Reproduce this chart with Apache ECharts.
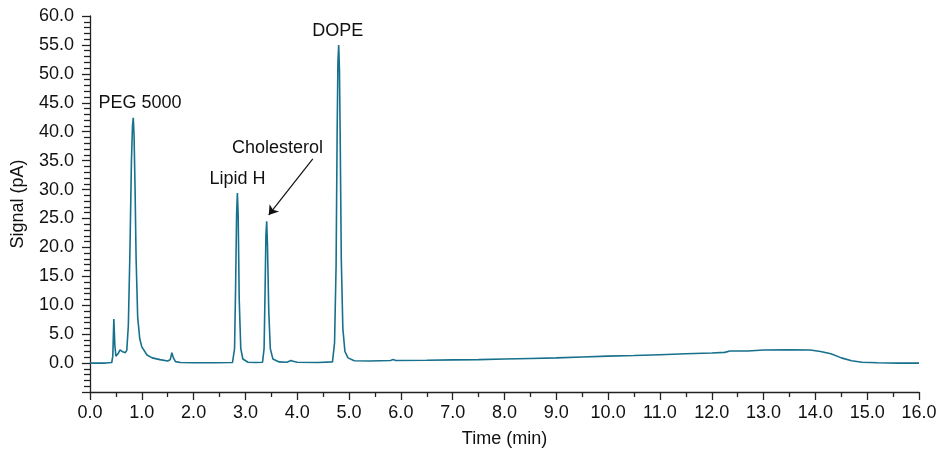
<!DOCTYPE html>
<html>
<head>
<meta charset="utf-8">
<script src="https://cdn.jsdelivr.net/npm/echarts@6/dist/echarts.min.js"></script>
<style>
  html, body { margin: 0; padding: 0; background: #fff; }
  #chart { width: 943px; height: 456px; }
</style>
</head>
<body>
<div id="chart"></div>
<script>
// retention time (min) and detector signal (pA)
const times = [
  0.0, 0.3, 0.42, 0.44, 0.46, 0.48, 0.50, 0.54, 0.58, 0.62, 0.68, 0.71,
  0.74, 0.77, 0.80, 0.82, 0.835, 0.85, 0.87, 0.89, 0.92, 0.96, 1.0, 1.1,
  1.2, 1.35, 1.5, 1.55, 1.58, 1.61, 1.65, 1.75, 2.0, 2.4, 2.75,
  2.79, 2.81, 2.83, 2.845, 2.86, 2.88, 2.91, 2.95, 3.05, 3.2, 3.33,
  3.36, 3.38, 3.395, 3.41, 3.425, 3.45, 3.48, 3.53, 3.65, 3.8, 3.88, 3.92, 4.0, 4.4, 4.68,
  4.72, 4.75, 4.77, 4.785, 4.80, 4.815, 4.83, 4.85, 4.88, 4.92, 4.98, 5.1,
  5.4, 5.8, 5.85, 5.9, 6.5, 7.0, 7.5, 8.0, 8.5, 9.0, 9.5, 10.0, 10.5,
  11.0, 11.5, 12.0, 12.25, 12.35, 12.7, 13.0, 13.5, 13.9, 14.1, 14.3,
  14.5, 14.7, 14.9, 15.2, 15.6, 16.0
];
const signal = [
  0.0, 0.0, 0.1, 1.2, 7.6, 3.0, 1.2, 1.6, 2.3, 2.0, 1.8, 2.2,
  6.5, 19.0, 35.0, 41.0, 42.4, 39.5, 30.0, 18.0, 8.0, 4.2, 2.8, 1.4,
  0.9, 0.6, 0.35, 0.6, 1.8, 0.9, 0.25, 0.1, 0.05, 0.05, 0.1,
  2.5, 13.0, 26.0, 29.4, 25.5, 11.0, 2.5, 0.7, 0.15, 0.1, 0.15,
  2.5, 13.0, 22.0, 24.5, 20.5, 9.0, 2.5, 0.7, 0.2, 0.15, 0.45, 0.3, 0.15, 0.1, 0.2,
  3.5, 17.0, 40.0, 52.0, 55.0, 50.5, 38.0, 18.0, 6.0, 2.0, 0.9, 0.4,
  0.35, 0.45, 0.6, 0.45, 0.5, 0.55, 0.6, 0.7, 0.8, 0.9, 1.05, 1.2, 1.3,
  1.45, 1.6, 1.75, 1.85, 2.1, 2.1, 2.25, 2.3, 2.25, 2.0, 1.6,
  0.9, 0.4, 0.15, 0.05, 0.0, 0.0
];

// peak annotations: [label, time, signal]
const peakLabels = [
  ['PEG 5000', 0.965, 45.0],
  ['Lipid H', 2.845, 31.8],
  ['Cholesterol', 3.62, 37.1],
  ['DOPE', 4.78, 57.4]
];
const arrowFrom = [4.30, 35.3];
const arrowTo = [3.45, 25.6];

const font = 'Liberation Sans, Arial, Helvetica, sans-serif';
const axisColor = '#222';

const chart = echarts.init(document.getElementById('chart'));

chart.setOption({
  backgroundColor: '#fff',
  animation: false,
  grid: { left: 90, right: 24, top: 16, bottom: 64 },
  xAxis: {
    type: 'value',
    min: 0,
    max: 16,
    interval: 1,
    name: 'Time (min)',
    nameLocation: 'middle',
    nameGap: 38,
    nameTextStyle: { fontFamily: font, fontSize: 18, color: '#111' },
    axisLine: { onZero: false, lineStyle: { color: axisColor, width: 1.3 } },
    axisTick: { length: 8, lineStyle: { color: axisColor, width: 1.3 } },
    minorTick: { show: true, splitNumber: 2, length: 5, lineStyle: { color: axisColor, width: 1.3 } },
    axisLabel: {
      margin: 12,
      fontFamily: font,
      fontSize: 18,
      color: '#111',
      formatter: (v) => v.toFixed(1)
    },
    splitLine: { show: false }
  },
  yAxis: {
    type: 'value',
    min: -5,
    max: 60,
    interval: 5,
    name: 'Signal (pA)',
    nameLocation: 'middle',
    nameGap: 63,
    nameTextStyle: { fontFamily: font, fontSize: 18, color: '#111' },
    axisLine: { show: true, lineStyle: { color: axisColor, width: 1.3 } },
    axisTick: { show: true, length: 8, lineStyle: { color: axisColor, width: 1.3 } },
    minorTick: { show: true, splitNumber: 5, length: 6, lineStyle: { color: axisColor, width: 1.3 } },
    axisLabel: {
      margin: 16,
      fontFamily: font,
      fontSize: 18,
      color: '#111',
      formatter: (v) => (v < 0 ? '' : v.toFixed(1))
    },
    splitLine: { show: false }
  },
  series: [
    {
      name: 'Signal',
      type: 'line',
      data: times.map((t, i) => [t, signal[i]]),
      showSymbol: false,
      silent: true,
      lineStyle: { color: '#17708c', width: 1.6 },
      markPoint: {
        silent: true,
        symbol: 'circle',
        symbolSize: 0,
        label: {
          show: true,
          position: 'inside',
          fontFamily: font,
          fontSize: 18,
          color: '#111',
          formatter: (p) => p.name
        },
        data: peakLabels.map((d) => ({ name: d[0], coord: [d[1], d[2]] }))
      },
      markLine: {
        silent: true,
        symbol: ['none', 'arrow'],
        symbolSize: 9,
        label: { show: false },
        lineStyle: { color: '#111', width: 1.2, type: 'solid' },
        data: [[{ coord: arrowFrom }, { coord: arrowTo }]]
      }
    }
  ]
});
</script>
</body>
</html>
